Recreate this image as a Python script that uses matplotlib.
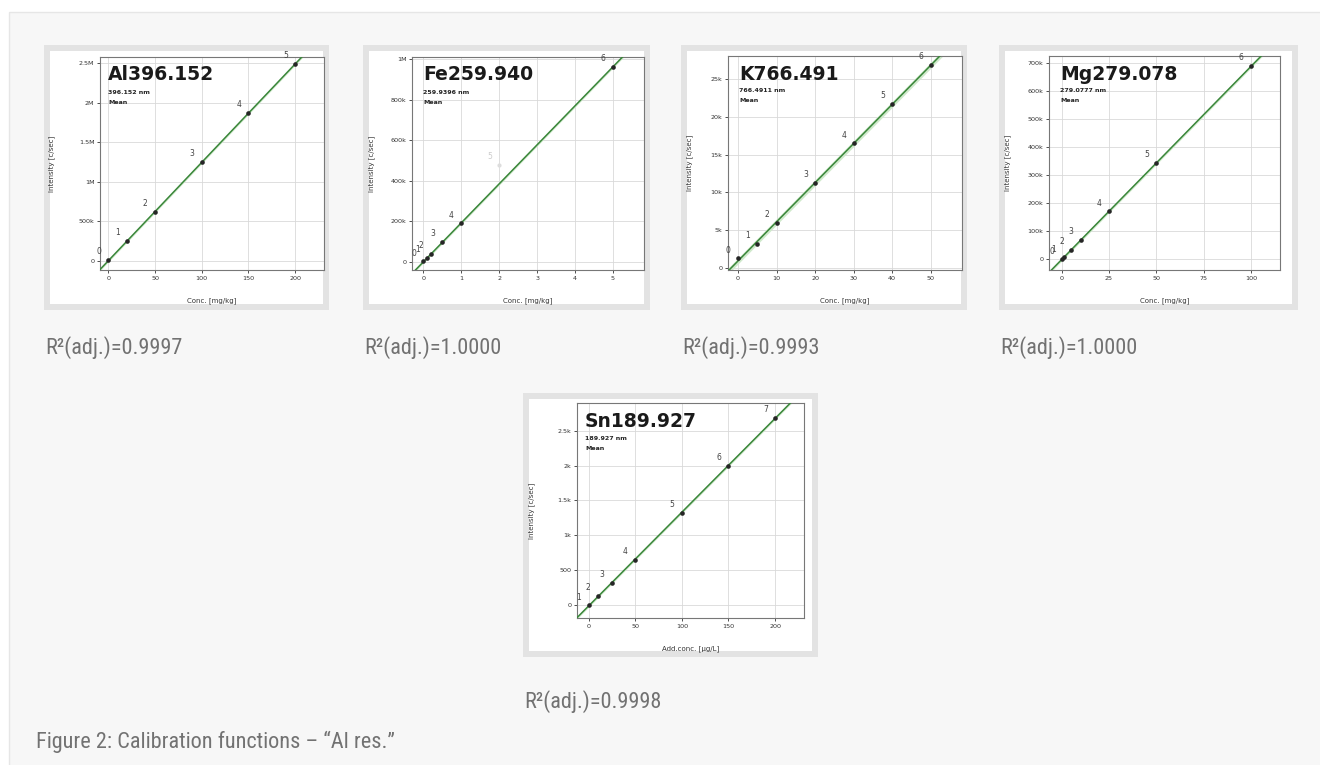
import numpy as np
import matplotlib
matplotlib.use("Agg")
import matplotlib.pyplot as plt
from matplotlib.patches import Rectangle
from matplotlib import font_manager

# ---------------------------------------------------------------- data
al_conc = [0, 20, 50, 100, 150, 200]
al_int = [5e3, 245e3, 615e3, 1.245e6, 1.87e6, 2.49e6]
al_lab = ["0", "1", "2", "3", "4", "5"]
al_yticks = [0, 500e3, 1.0e6, 1.5e6, 2.0e6, 2.5e6]
al_yticklabels = ["0", "500k", "1M", "1.5M", "2M", "2.5M"]
al_xticks = [0, 50, 100, 150, 200]

fe_conc = [0, 0.1, 0.2, 0.5, 1, 2, 5]
fe_int = [2e3, 20e3, 38e3, 97e3, 190e3, 480e3, 962e3]
fe_lab = ["0", "1", "2", "3", "4", "5", "6"]
fe_used = [True, True, True, True, True, False, True]
fe_yticks = [0, 200e3, 400e3, 600e3, 800e3, 1.0e6]
fe_yticklabels = ["0", "200k", "400k", "600k", "800k", "1M"]
fe_xticks = [0, 1, 2, 3, 4, 5]

k_conc = [0, 5, 10, 20, 30, 40, 50]
k_int = [1.24e3, 3.2e3, 6.0e3, 11.3e3, 16.5e3, 21.7e3, 26.9e3]
k_lab = ["0", "1", "2", "3", "4", "5", "6"]
k_yticks = [0, 5e3, 10e3, 15e3, 20e3, 25e3]
k_yticklabels = ["0", "5k", "10k", "15k", "20k", "25k"]
k_xticks = [0, 10, 20, 30, 40, 50]

mg_conc = [0, 1, 5, 10, 25, 50, 100]
mg_int = [0, 7e3, 34e3, 68e3, 171e3, 343e3, 690e3]
mg_lab = ["0", "1", "2", "3", "4", "5", "6"]
mg_yticks = [0, 100e3, 200e3, 300e3, 400e3, 500e3, 600e3, 700e3]
mg_yticklabels = ["0", "100k", "200k", "300k", "400k", "500k", "600k", "700k"]
mg_xticks = [0, 25, 50, 75, 100]

sn_conc = [0, 10, 25, 50, 100, 150, 200]
sn_int = [-10, 125, 320, 650, 1320, 2000, 2690]
sn_lab = ["1", "2", "3", "4", "5", "6", "7"]
sn_yticks = [0, 500, 1000, 1500, 2000, 2500]
sn_yticklabels = ["0", "500", "1k", "1.5k", "2k", "2.5k"]
sn_xticks = [0, 50, 100, 150, 200]

titles = ["Al396.152", "Fe259.940", "K766.491", "Mg279.078", "Sn189.927"]
wavelengths = ["396.152 nm", "259.9396 nm", "766.4911 nm", "279.0777 nm", "189.927 nm"]
xlabels = ["Conc. [mg/kg]", "Conc. [mg/kg]", "Conc. [mg/kg]", "Conc. [mg/kg]",
           "Add.conc. [\u00b5g/L]"]
r2_values = ["0.9997", "1.0000", "0.9993", "1.0000", "0.9998"]
caption = "Figure 2: Calibration functions \u2013 \u201cAl res.\u201d"

# ---------------------------------------------------------------- fonts
installed = {f.name for f in font_manager.fontManager.ttflist}
CAP_FONT = [f for f in ("Roboto Condensed", "Liberation Sans Narrow", "Open Sans Condensed",
                        "Roboto") if f in installed] + ["DejaVu Sans"]
narrow = CAP_FONT[0] in ("Roboto Condensed", "Liberation Sans Narrow", "Open Sans Condensed")
CAP_SIZE = 16 if narrow else 12

# ---------------------------------------------------------------- layout (pixels)
W, H = 1320, 765
fig = plt.figure(figsize=(W / 100, H / 100), dpi=100)
fig.patch.set_facecolor("white")

bg = fig.add_axes([0, 0, 1, 1])
bg.set_xlim(0, W)
bg.set_ylim(H, 0)
bg.axis("off")
bg.add_patch(Rectangle((9, 12), W, H, facecolor="#f7f7f7", edgecolor="#e6e6e6", lw=1))

# frame boxes (outer) and axes boxes (spines), both in pixels
frames = [(44, 45, 329, 310), (363, 45, 650, 310), (681, 45, 967, 310),
          (999, 45, 1298, 310), (523, 393, 818, 657)]
axboxes = [(100, 57, 324, 270), (412, 57, 644, 270), (728, 56, 962, 270),
           (1049, 56, 1280, 270), (577, 403, 804, 618)]
xlims = [(-9, 231), (-0.3, 5.82), (-2.6, 58.1), (-6.7, 115.3), (-12.5, 231)]
ylims = [(-120e3, 2.58e6), (-40e3, 1.01e6), (-300, 28.1e3), (-38e3, 726e3), (-190, 2900)]
band_frac = [0.006, 0.006, 0.014, 0.007, 0.006]
ylabel_off = [45, 37, 35, 38, 42]

panels = [
    (al_conc, al_int, al_lab, None, al_xticks, al_yticks, al_yticklabels),
    (fe_conc, fe_int, fe_lab, fe_used, fe_xticks, fe_yticks, fe_yticklabels),
    (k_conc, k_int, k_lab, None, k_xticks, k_yticks, k_yticklabels),
    (mg_conc, mg_int, mg_lab, None, mg_xticks, mg_yticks, mg_yticklabels),
    (sn_conc, sn_int, sn_lab, None, sn_xticks, sn_yticks, sn_yticklabels),
]

LINE = "#3a863a"
BAND = "#cfe9cb"
GRID = "#d9d9d9"
TXT = "#333333"

for i, (x, y, lab, used, xt, yt, ytl) in enumerate(panels):
    fx0, fy0, fx1, fy1 = frames[i]
    bg.add_patch(Rectangle((fx0, fy0), fx1 - fx0, fy1 - fy0,
                           facecolor="#e3e3e3", edgecolor="none"))
    bg.add_patch(Rectangle((fx0 + 6, fy0 + 6), fx1 - fx0 - 12, fy1 - fy0 - 12,
                           facecolor="white", edgecolor="none"))

    ax0, ay0, ax1, ay1 = axboxes[i]
    ax = fig.add_axes([ax0 / W, 1 - ay1 / H, (ax1 - ax0) / W, (ay1 - ay0) / H])
    ax.set_facecolor("white")
    ax.set_xlim(*xlims[i])
    ax.set_ylim(*ylims[i])

    x = np.asarray(x, float)
    y = np.asarray(y, float)
    mask = np.ones(len(x), bool) if used is None else np.asarray(used)
    slope, icpt = np.polyfit(x[mask], y[mask], 1)
    xs = np.linspace(xlims[i][0], xlims[i][1], 200)
    fit = slope * xs + icpt
    hw = band_frac[i] * (ylims[i][1] - ylims[i][0])
    ax.fill_between(xs, fit - hw, fit + hw, color=BAND, lw=0, zorder=2)
    ax.plot(xs, fit, color=LINE, lw=1.1, zorder=3)

    ax.scatter(x[mask], y[mask], s=11, color="#262626", zorder=4, lw=0)
    if not mask.all():
        ax.scatter(x[~mask], y[~mask], s=9, color="#dddddd", zorder=4, lw=0)

    # point numbers, up and to the left of each point
    for xi, yi, li, ok in zip(x, y, lab, mask):
        ax.annotate(li, (xi, yi), xytext=(-7, 6), textcoords="offset points",
                    fontsize=5.5, color="#444444" if ok else "#cccccc",
                    ha="center", va="center", zorder=5)

    ax.set_xticks(xt)
    ax.set_xticklabels([str(v) for v in xt])
    ax.set_yticks(yt)
    ax.set_yticklabels(ytl)
    ax.tick_params(labelsize=4.6, colors=TXT, length=2, width=0.6, pad=2)
    ax.grid(True, color=GRID, lw=0.6, zorder=0)
    ax.set_axisbelow(True)
    for s in ax.spines.values():
        s.set_color("#777777")
        s.set_linewidth(0.8)

    ax.set_xlabel(xlabels[i], fontsize=5, color=TXT)
    ax.xaxis.set_label_coords(0.5, -27 / (ay1 - ay0))
    ax.set_ylabel("Intensity [c/sec]", fontsize=5, color=TXT)
    ax.yaxis.set_label_coords(-ylabel_off[i] / (ax1 - ax0), 0.5)

    tx = ax0 + (8 if i in (0, 4) else 11)
    ty = ay0 + 18
    fig.text(tx / W, 1 - ty / H, titles[i], fontsize=13.5, fontweight="bold",
             color="#1a1a1a", va="center", ha="left")
    fig.text(tx / W, 1 - (ty + 17) / H, wavelengths[i], fontsize=4.5,
             fontweight="bold", color="#222222", va="center", ha="left")
    fig.text(tx / W, 1 - (ty + 27) / H, "Mean", fontsize=4.5,
             fontweight="bold", color="#222222", va="center", ha="left")

    # adjusted R² under each panel
    cy = 348 if i < 4 else 702
    fig.text((fx0 + 1) / W, 1 - cy / H, "R\u00b2(adj.)=" + r2_values[i],
             fontsize=CAP_SIZE, color="#727272",
             va="center", ha="left", family=CAP_FONT)

fig.text(36 / W, 1 - 742 / H, caption, fontsize=CAP_SIZE,
         color="#727272", va="center", ha="left", family=CAP_FONT)

fig.savefig("out.png", dpi=100)
